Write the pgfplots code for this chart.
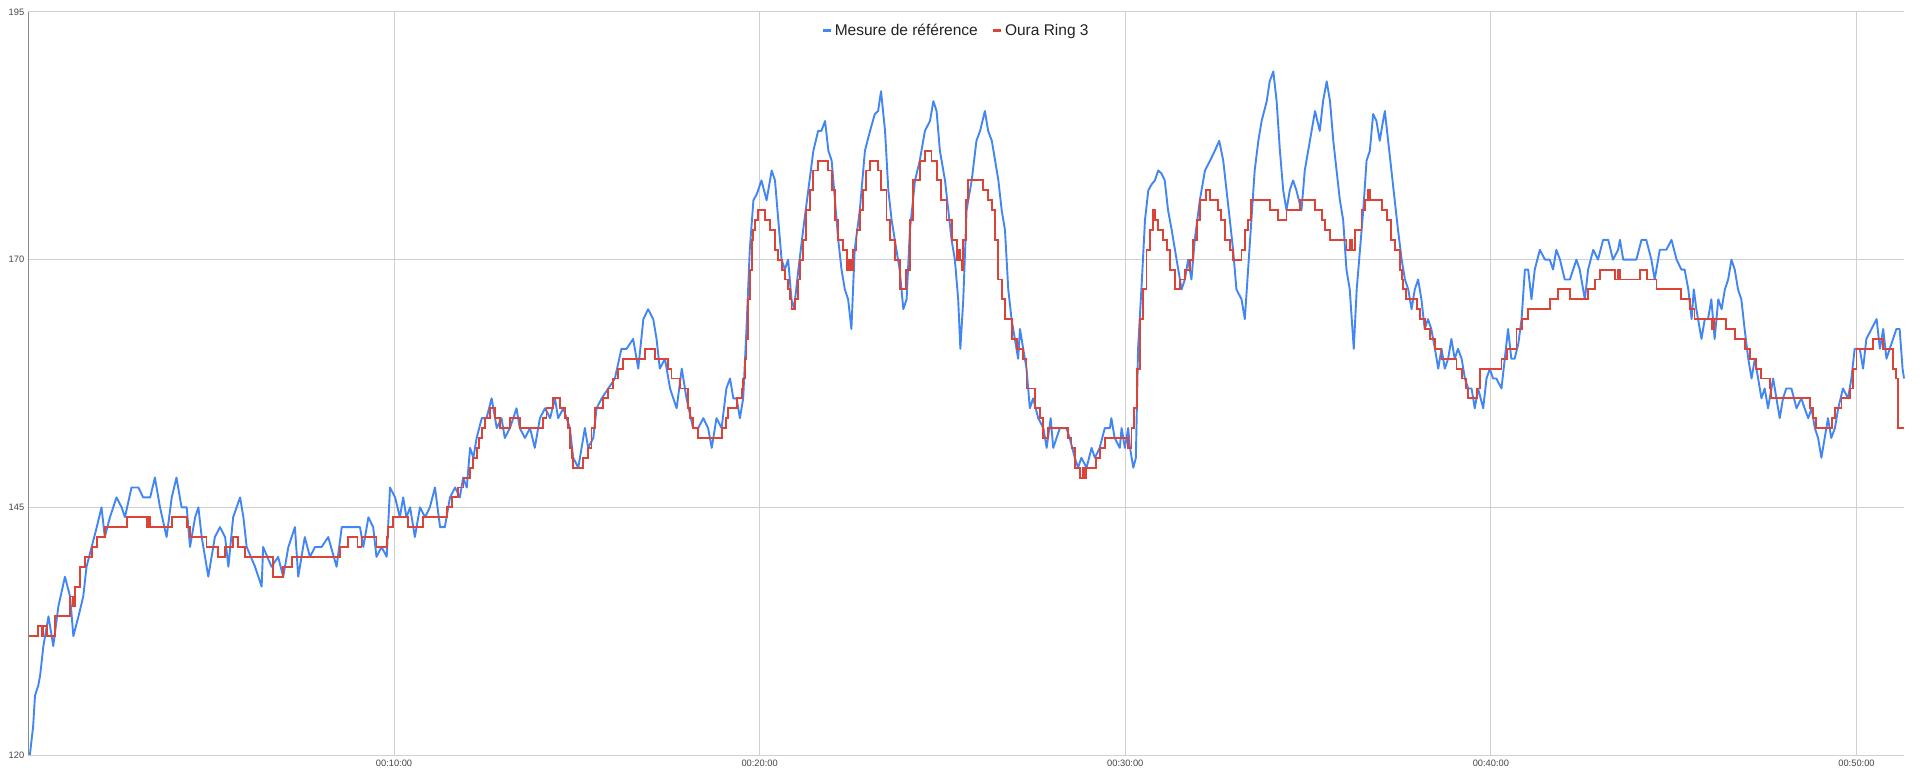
\documentclass[border=0pt]{standalone}
\usepackage{fontspec}
\setmainfont{Liberation Sans}
\usepackage{pgfplots}
\pgfplotsset{compat=1.18}
\definecolor{blueC}{HTML}{4285F4}
\definecolor{redC}{HTML}{DB4437}
\definecolor{gridC}{HTML}{D0D0D0}
\definecolor{axisC}{HTML}{8A8A8A}
\definecolor{labelC}{HTML}{444444}
\definecolor{legendC}{HTML}{222222}
\begin{document}
\begin{tikzpicture}[x=1pt,y=1pt]
\useasboundingbox (0,0) rectangle (1919,772);
\begin{axis}[
  at={(28.4pt,17pt)}, anchor=south west,
  scale only axis, width=1875.6pt, height=743pt,
  xmin=0, xmax=51.3, ymin=120, ymax=195,
  xtick={10,20,30,40,50},
  xticklabels={00:10:00,00:20:00,00:30:00,00:40:00,00:50:00},
  ytick={120,145,170,195},
  major tick length=0pt,
  grid=major, major grid style={draw=gridC, line width=1pt},
  axis line style={draw=none},
  tick label style={font=\fontsize{9.3}{11}\selectfont, text=labelC},
  /pgf/number format/assume math mode=true,
  yticklabel style={inner sep=0pt, xshift=-4pt},
  xticklabel style={inner sep=0pt, yshift=-5pt},
  clip=false,
  legend style={draw=none, fill=none, at={(0.4946,0.9748)}, anchor=center,
    legend columns=2, font=\fontsize{15.5}{18}\selectfont, text=legendC,
    inner sep=0pt, /tikz/every even column/.append style={column sep=12pt}},
  legend cell align=left,
  legend image code/.code={\draw[#1, line width=3.2pt] (0pt,0pt) -- (8pt,0pt);},
]
\addlegendimage{draw=blueC}
\addlegendentry{Mesure de référence}
\addlegendimage{draw=redC}
\addlegendentry{Oura Ring 3}

\addplot[forget plot, draw=blueC, line width=1.9pt, line join=round] coordinates {
(0.04,120)(0.13,122.9)(0.18,126)(0.27,127)(0.32,128)(0.41,131)(0.55,134)(0.68,131)(0.82,135)(1.0,138)(1.14,136)(1.23,132)(1.37,134)(1.5,136)(1.59,139)(1.73,141)(1.87,143)(2.0,145)(2.09,142)(2.23,144)(2.41,146)(2.55,145)(2.64,144)(2.82,147)(3.01,147)(3.14,146)(3.33,146)(3.46,148)(3.6,145)(3.78,142)(3.92,146)(4.05,148)(4.19,145)(4.33,145)(4.42,141)(4.56,144)(4.65,145)(4.74,142)(4.92,138)(5.1,142)(5.24,143)(5.38,142)(5.47,139)(5.6,144)(5.79,146)(5.88,144)(5.97,141)(6.2,139)(6.38,137)(6.42,141)(6.65,139)(6.83,140)(6.97,138)(7.11,141)(7.29,143)(7.38,138)(7.56,142)(7.7,140)(7.84,141)(8.02,141)(8.2,142)(8.43,139)(8.57,143)(8.8,143)
(8.93,143)(9.07,143)(9.16,141)(9.3,144)(9.43,143)(9.52,140)(9.66,141)(9.8,140)(9.89,147)(10.03,146)(10.16,144)(10.25,146)(10.34,144)(10.44,145)(10.57,142)(10.71,145)(10.85,144)(10.98,145)(11.12,147)(11.26,143)(11.39,143)(11.53,146)(11.67,147)(11.8,146)(11.89,148)(11.99,147)(12.08,151)(12.17,150)(12.26,152)(12.4,154)(12.53,154)(12.67,156)(12.81,153)(12.94,154)(13.03,152)(13.17,153)(13.35,155)(13.44,153)(13.58,152)(13.72,153)(13.85,151)(13.99,154)(14.13,155)(14.27,154)(14.4,156)(14.49,154)(14.63,155)(14.81,153)(14.9,150)(15.04,149)(15.22,153)(15.31,151)(15.45,152)(15.54,155)(15.68,156)(15.86,157)(16.04,158)(16.22,161)(16.36,161)(16.54,162)(16.68,159)(16.82,164)(16.95,165)(17.09,164)(17.18,162)(17.27,159)(17.41,160)(17.55,157)(17.73,155)(17.87,159)(18.0,156)
(18.18,153)(18.32,153)(18.46,154)(18.59,153)(18.69,151)(18.82,154)(18.96,153)(19.09,157)(19.19,158)(19.28,156)(19.37,156)(19.46,154)(19.55,156)(19.64,163)(19.73,171)(19.83,176)(19.92,176.6)(20.05,178)(20.19,176)(20.33,179)(20.42,178)(20.51,174)(20.6,170)(20.69,169)(20.78,170)(20.87,166)(20.94,165)(21.06,169)(21.19,173)(21.33,177)(21.47,181)(21.6,183)(21.69,183)(21.79,184)(21.88,181)(21.97,180)(22.06,176)(22.15,172)(22.24,169)(22.33,167)(22.42,166)(22.51,163)(22.6,171)(22.74,175)(22.88,181)(23.02,183)(23.15,184.7)(23.24,185)(23.32,187)(23.43,183)(23.52,177)(23.61,174)(23.74,171)(23.83,169)(23.93,165)(24.02,166)(24.11,173)(24.25,178)(24.38,180)(24.52,183)(24.66,184)(24.75,186)(24.84,185)(24.93,181)(25.07,178)(25.16,175)(25.25,172)(25.34,170)(25.43,166)(25.49,161)(25.57,166)(25.66,175)(25.8,178)(25.93,182)(26.03,183)(26.16,185)(26.25,183)(26.35,182)(26.44,180)(26.53,178)(26.62,175)(26.71,173)(26.8,167)(26.89,164)(26.98,162)(27.07,160)(27.12,163)(27.21,161)(27.3,159)(27.39,155)(27.48,156)(27.62,154)(27.76,153)(27.85,151)(27.96,154)(28.03,151)(28.12,152)(28.21,153)(28.3,153)(28.39,153)(28.48,152)(28.62,150)(28.71,149)(28.8,150)(28.94,149)(29.08,151)(29.17,150)(29.3,151)(29.44,153)(29.58,153)(29.62,154)(29.71,152)(29.85,151)(29.9,153)(29.99,151)(30.08,153)(30.13,151)(30.22,149)(30.29,150)
(30.35,161)(30.45,167.6)(30.54,174)(30.63,177)(30.72,177.6)(30.81,178)(30.9,179)(30.99,178.7)(31.08,178)(31.17,175)(31.27,173)(31.36,171)(31.45,169)(31.54,167)(31.63,168)(31.72,170)(31.81,168)(31.9,172)(32.04,176)(32.18,179)(32.32,180)(32.45,181)(32.57,182)(32.68,180)(32.77,177)(32.86,174)(32.95,171)(33.04,167)(33.18,166)(33.27,164)(33.36,169)(33.45,174)(33.54,179)(33.64,182)(33.73,184)(33.87,186)(33.95,188)(34.05,189)(34.14,186)(34.23,181)(34.32,177)(34.41,175)(34.5,177)(34.59,178)(34.68,177)(34.82,175)(34.91,179)(35.05,182)(35.19,185)(35.32,183)(35.41,186)(35.51,188)(35.6,186)(35.69,182)(35.78,179)(35.87,176)(35.96,174)(36.05,169)(36.14,167)(36.25,161)(36.33,167)
(36.42,171)(36.51,175)(36.6,180)(36.69,181)(36.78,184.7)(36.87,184)(36.96,182)(37.05,184)(37.1,185)(37.19,182)(37.28,179)(37.37,176)(37.46,173)(37.56,170)(37.65,168)(37.74,167)(37.83,165)(37.92,167)(38.01,168)(38.1,166)(38.19,163)(38.28,164)(38.37,163)(38.47,161)(38.56,159)(38.65,161)(38.74,159)(38.83,160)(38.92,162)(39.01,160)(39.1,161)(39.2,160)(39.29,158)(39.38,157)(39.47,157)(39.56,155)(39.65,157)(39.79,155)(39.88,158)(39.97,159)(40.06,158)(40.15,158)(40.29,157)(40.38,160)(40.47,163)(40.56,160)(40.65,160)(40.75,161.5)(40.84,164)(40.93,169)(41.02,169)(41.11,166)(41.2,169)(41.34,171)(41.48,170)(41.61,170)(41.7,169)(41.79,171)(41.89,170)(42.02,168)(42.16,168)(42.25,169)(42.34,170)(42.43,169)(42.57,166)(42.66,169)(42.8,171)(42.93,170)(43.07,172)(43.21,172)(43.34,170)(43.48,171)(43.53,172)(43.62,170)(43.8,170)(43.98,170)(44.12,172)(44.25,172)(44.39,170)(44.48,168)(44.62,171)(44.8,171)(44.94,172)(45.08,170)(45.21,169)(45.3,169)(45.4,167)
(45.49,164)(45.55,167)(45.62,165)(45.76,162)(45.85,164)(45.94,164)(46.03,166)(46.12,162)(46.22,166)(46.31,165)(46.4,167)(46.49,168)(46.58,170)(46.67,169)(46.76,167)(46.85,166)(46.94,163)(47.04,160)(47.13,158)(47.22,160)(47.31,158)(47.4,156)(47.49,157)(47.58,155)(47.72,158)(47.81,156)(47.9,154)(47.99,156)(48.08,157)(48.22,157)(48.36,155)(48.49,156)(48.58,155)(48.68,154)(48.77,155)(48.86,153)(48.95,152)(49.04,150)(49.13,152)(49.22,154)(49.31,152)(49.41,153)(49.5,155)(49.63,157)(49.77,156)(49.86,158)(49.95,161)(50.09,161)(50.18,159)(50.27,162)(50.41,163)(50.55,164)(50.64,161)(50.73,163)(50.82,160)(50.91,161)(51.0,162)(51.09,163)(51.18,163)(51.26,159)(51.3,158)
};

\addplot[forget plot, const plot, draw=redC, line width=1.9pt] coordinates {
(0,132)(0.27,133)(0.36,132)(0.41,133)(0.5,132)(0.73,134)(1.14,136)(1.22,135)(1.27,137)(1.41,139)(1.55,140)(1.73,141)(1.87,142)(2.09,143)(2.69,144)(3.23,143)(3.28,144)(3.33,143)(3.92,144)(4.33,143)(4.42,142)(4.87,141)(5.19,140)(5.38,141)(5.6,142)(5.74,141)(5.92,140)(6.7,138)(6.97,139)(7.2,140)(8.52,141)(8.75,142)(9.0,141)(9.11,142)(9.52,141)(9.8,142)(9.84,143)(9.98,144)
(10.39,143)(10.8,144)(11.44,145)(11.58,146)(11.76,147)(11.9,148)(12.08,149)(12.17,150)(12.26,151)(12.32,152)(12.4,153)(12.49,154)(12.62,155)(12.76,154)(12.9,153)(13.17,154)(13.44,153)(14.08,154)(14.17,155)(14.35,156)(14.54,155)(14.67,154)(14.76,153)(14.81,151)(14.86,150)(14.9,149)(15.18,150)(15.31,151)(15.4,153)(15.5,155)(15.72,156)(15.86,157)(16.0,158)(16.13,159)(16.27,160)(16.86,161)(17.14,160)(17.5,159)(17.59,158)(17.82,157)(18.05,155)(18.09,154)(18.18,153)(18.32,152)(18.96,153)(19.09,154)(19.14,155)(19.37,156)(19.51,157)(19.55,158)(19.6,160)(19.64,162)(19.69,166)(19.73,169)(19.78,172)(19.82,173)(19.87,174)(19.96,175)
(20.14,174)(20.28,173)(20.42,171)(20.51,170)(20.6,169)(20.69,168)(20.78,167)(20.83,166)(20.87,165)(20.96,166)(21.05,168)(21.1,170)(21.19,172)(21.28,175)(21.37,177)(21.47,179)(21.6,180)(21.88,179)(21.97,177)(22.06,174)(22.15,172)(22.29,171)(22.38,169)(22.45,170)(22.49,169)(22.56,171)(22.65,173)(22.74,175)(22.83,177)(22.92,179)(23.01,180)(23.24,179)(23.33,177)(23.47,174)(23.56,172)(23.7,170)(23.83,167)(24.01,169)(24.11,174)(24.2,178)(24.38,180)(24.52,181)(24.7,180)(24.84,178)(24.97,176)(25.11,174)(25.25,172)(25.39,170)(25.43,171)(25.48,170)(25.52,169)(25.57,172)(25.64,176)(25.71,178)(26.12,177)(26.25,176)(26.35,175)(26.44,172)(26.53,168)(26.62,166)(26.71,164)(26.9,162)(27.05,161)(27.21,160)(27.3,157)(27.53,155)(27.66,154)(27.75,152)(27.89,153)(28.44,152)(28.53,151)(28.62,149)(28.76,148)(28.83,149)(28.87,148)(28.92,149)(29.21,150)(29.3,151)(29.44,152)
(30.08,151)(30.17,153)(30.24,155)(30.31,159)(30.4,164)(30.49,167)(30.58,171)(30.67,173)(30.75,175)(30.81,174)(30.9,173)(31.04,172)(31.13,171)(31.22,169)(31.36,167)(31.49,168)(31.63,169)(31.77,170)(31.86,172)(31.95,174)(32.04,176)(32.22,177)(32.32,176)(32.54,175)(32.63,174)(32.72,172)(32.86,171)(32.95,170)(33.18,171)(33.27,173)(33.36,174)(33.45,176)(33.95,175)(34.18,174)(34.41,175)(34.77,176)(35.18,175)(35.37,174)(35.46,173)(35.6,172)(36.05,171)(36.14,172)(36.2,171)(36.28,173)(36.46,175)(36.56,176)(36.65,177)(36.69,176)(37.01,175)(37.15,174)(37.28,172)(37.37,171)(37.51,169)(37.56,168)(37.6,167)(37.69,166)(37.97,165)(38.06,164)(38.19,163)(38.33,162)(38.47,161)(38.65,160)(39.06,159)(39.2,158)(39.33,157)(39.38,156)(39.61,157)(39.7,159)
(40.29,160)(40.43,161)(40.7,163)(40.84,164)(41.02,165)(41.61,166)(41.84,167)(42.16,166)(42.66,167)(42.84,168)(42.98,169)(43.39,168)(43.48,169)(43.53,168)(44.07,169)(44.26,168)(44.53,167)(45.21,166)(45.44,165)(45.57,164)(46.06,163)(46.11,164)(46.44,163)(46.67,162)(46.94,161)(47.08,160)(47.26,159)(47.4,158)(47.63,157)(47.67,156)(48.72,155)(48.81,154)(48.9,153)(49.32,154)(49.41,155)(49.59,156)(49.82,157)(49.91,159)(50.0,161)(50.45,162)(50.72,161)(50.99,159)(51.08,158)(51.13,153)(51.3,153)
};
\draw[draw=axisC, line width=1.5pt] (axis cs:0,120) -- (axis cs:0,195);
\end{axis}
\end{tikzpicture}
\end{document}
